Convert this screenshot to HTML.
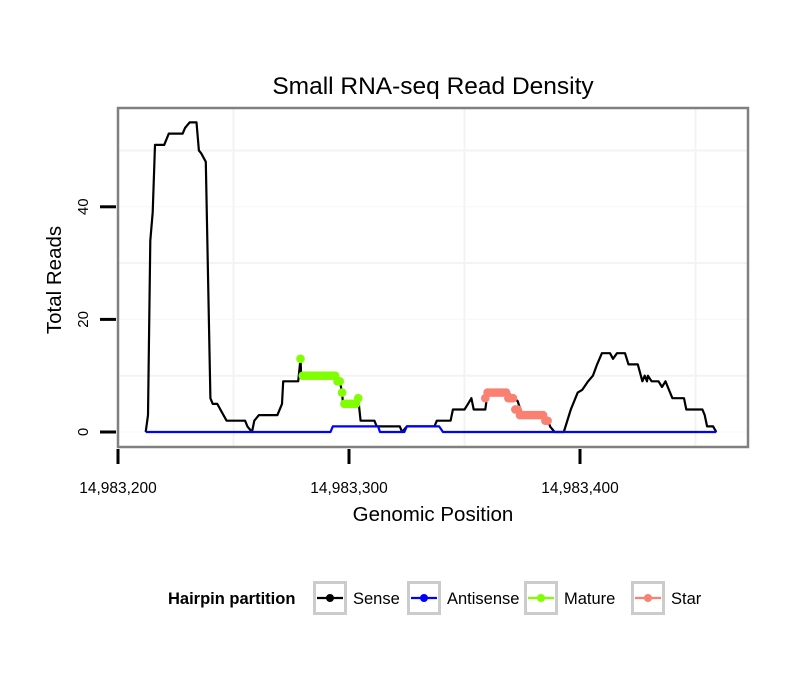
<!DOCTYPE html>
<html><head><meta charset="utf-8"><style>
body{margin:0;background:#fff;}
svg text{font-family:"Liberation Sans",Arial,sans-serif;}
</style></head><body>
<svg id="chart" width="810" height="690" xmlns="http://www.w3.org/2000/svg">
<rect width="810" height="690" fill="#fff"/>
<text x="433" y="94" font-size="24.5" text-anchor="middle">Small RNA-seq Read Density</text>
<g id="grid"></g>
<g id="series"></g>
<rect x="118" y="108" width="630" height="339" fill="none" stroke="#808080" stroke-width="2.5"/>
<g id="axes"></g>
<text x="433" y="521" font-size="20.5" text-anchor="middle">Genomic Position</text>
<text transform="translate(61,280) rotate(-90)" font-size="20.5" text-anchor="middle">Total Reads</text>
<g>
<text x="168" y="604" font-size="16.5" font-weight="bold">Hairpin partition</text>
<g id="legend"></g>
</g>
</svg>
<script>
const senseX=[12,13,14,15,16,20,22,28,29,31,34,35,36,38,40,41,43,45,47,55,56,58,59,61,69,71,71.5,78,79,79.3,95,96,97,97.4,103.5,104,105,111,112,122,123,125,137,138,144,145,150,151.5,153,154,159,160,169,171,173,175,186,187,189,193,196,199,201,203.5,205.6,207.4,209.5,213,214.3,216,219.5,221,225,227,228,229,229.4,231,234,235.5,237,238,240,245,246,253,254,255,257.6,259];
const senseY=[0,3,34,39,51,51,53,53,54,55,55,50,49.5,48,6,5,5,3.5,2,2,1,0,2,3,3,5,9,9,13,10,10,9,7,5,5,6,2,2,1,1,0,1,1,2,2,4,4,5,6,4,4,7,7,6,5.5,3,2.5,1,0,0,4,7,7.5,9,10,12,14,14,13,14,14,12,12,9,10,9,10,9,9,8,9,8,6,6,4,4,3,1,1,0];
const antiX=[12,92,93,112.6,113.4,124,125,139,140.7,259];
const antiY=[0,0,1,1,0,0,1,1,0,0];
const matureX=[79,80,81,82,83,84,85,86,87,88,89,90,91,92,93,94,95,96,97,98,99,100,101,102,103,104];
const matureY=[13,10,10,10,10,10,10,10,10,10,10,10,10,10,10,10,9,9,7,5,5,5,5,5,5,6];
const starX=[159,160,161,162,163,164,165,166,167,168,169,170,171,172,173,174,175,176,177,178,179,180,181,182,183,184,185,186];
const starY=[6,7,7,7,7,7,7,7,7,7,6,6,6,4,4,3,3,3,3,3,3,3,3,3,3,3,2,2];
const xTicks=[0,100,200];
const xTickLabels=["14,983,200","14,983,300","14,983,400"];
const yTicks=[0,20,40];
const legendNames=["Sense","Antisense","Mature","Star"];
const legendColors=["#000000","#0000ff","#7fff00","#fa8072"];

const NS="http://www.w3.org/2000/svg";
const sx=v=>118+v*2.31;
const sy=v=>432-v*5.63;
function mk(tag,attrs,parent){const e=document.createElementNS(NS,tag);for(const k in attrs)e.setAttribute(k,attrs[k]);parent.appendChild(e);return e;}
const grid=document.getElementById('grid'),series=document.getElementById('series'),axes=document.getElementById('axes'),legend=document.getElementById('legend');
[10,30,50].forEach(v=>{const l=mk('line',{x1:118,x2:748,y1:sy(v),y2:sy(v),stroke:'#f3f3f3','stroke-width':2},grid);

});
[0,20,40].forEach(v=>{const l=mk('line',{x1:118,x2:748,y1:sy(v),y2:sy(v),stroke:'#f7f7f7','stroke-width':1},grid);

});
[50,150,250].forEach(v=>{const l=mk('line',{x1:sx(v),x2:sx(v),y1:108,y2:447,stroke:'#f3f3f3','stroke-width':2},grid);

});
function line(xs,ys,color,name){const p=xs.map((x,i)=>sx(x).toFixed(1)+','+sy(ys[i]).toFixed(1)).join(' ');
const e=mk('polyline',{points:p,fill:'none',stroke:color,'stroke-width':2.2,'stroke-linejoin':'round'},series);

}
line(senseX,senseY,'#000','sense-line');
line(antiX,antiY,'#0000ff','antisense-line');
function pts(xs,ys,color,name){xs.forEach((x,i)=>{const c=mk('circle',{cx:sx(x),cy:sy(ys[i]),r:4.3,fill:color},series);

});}
pts(matureX,matureY,'#7fff00','mature-point');
pts(starX,starY,'#fa8072','star-point');
xTicks.forEach((v,i)=>{const t=mk('line',{x1:sx(v),x2:sx(v),y1:449,y2:464,stroke:'#000','stroke-width':3},axes);


const tx=mk('text',{x:sx(v),y:493,'font-size':15.5,'text-anchor':'middle'},axes);tx.textContent=xTickLabels[i];

});
yTicks.forEach(v=>{const t=mk('line',{x1:100,x2:116,y1:sy(v),y2:sy(v),stroke:'#000','stroke-width':3},axes);


const tx=mk('text',{transform:`translate(88,${sy(v)}) rotate(-90)`,'font-size':15,'text-anchor':'middle'},axes);tx.textContent=v;

});
const lx=[313,407,524,631];
legendNames.forEach((n,i)=>{const x=lx[i];
const b=mk('rect',{x:x+1.5,y:582.5,width:31,height:31,fill:'#fff',stroke:'#cccccc','stroke-width':3},legend);


mk('line',{x1:x+4,x2:x+30,y1:598,y2:598,stroke:legendColors[i],'stroke-width':2.2},legend);
mk('circle',{cx:x+17,cy:598,r:4,fill:legendColors[i]},legend);
const t=mk('text',{x:x+40,y:604,'font-size':16.5},legend);t.textContent=n;

});
</script>
</body></html>
